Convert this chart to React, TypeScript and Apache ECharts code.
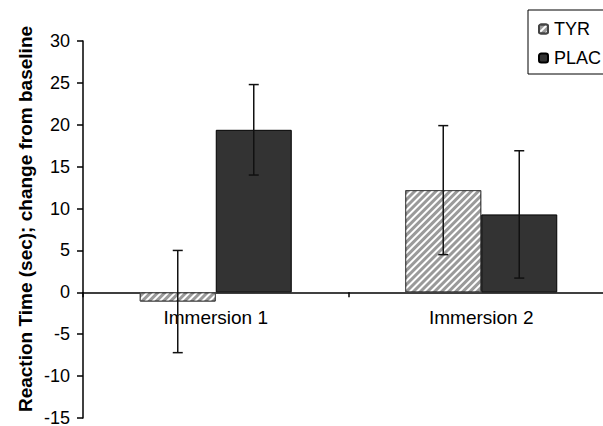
import React, { useEffect, useRef } from "react";
import * as echarts from "echarts";

const categories = ["Immersion 1", "Immersion 2"];
const seriesNames = ["TYR", "PLAC"];
const tyrValues = [-1.1, 12.2];
const tyrErrors = [6.1, 7.7];
const placValues = [19.4, 9.3];
const placErrors = [5.4, 7.6];
const yTicks = { min: -15, max: 30, interval: 5 };

const BAR_W = 76;

export default function App() {
  const ref = useRef<HTMLDivElement>(null);
  useEffect(() => {
    if (!ref.current) return;
    const chart = echarts.init(ref.current, null, { renderer: "svg" });
    const errData = (vals: number[], errs: number[]) =>
      vals.map((v, i) => [i, v, v - errs[i], v + errs[i]]);
    const errSeries = (vals: number[], errs: number[], offset: number, name: string) => ({
      type: "custom",
      name: name + "-err",
      z: 10,
      silent: true,
      data: errData(vals, errs),
      renderItem: (params: any, api: any) => {
        const x = api.coord([api.value(0), 0])[0] + offset;
        const lo = api.coord([api.value(0), api.value(2)])[1];
        const hi = api.coord([api.value(0), api.value(3)])[1];
        const cap = 5;
        const st = { stroke: "#111", lineWidth: 1.5 };
        return {
          type: "group",
          children: [
            { type: "line", shape: { x1: x, y1: lo, x2: x, y2: hi }, style: st },
            { type: "line", shape: { x1: x - cap, y1: lo, x2: x + cap, y2: lo }, style: st },
            { type: "line", shape: { x1: x - cap, y1: hi, x2: x + cap, y2: hi }, style: st },
          ],
        };
      },
    });
    chart.setOption({
      animation: false,
      backgroundColor: "#fff",
      textStyle: { fontFamily: "Liberation Sans, Arial, sans-serif" },
      grid: { left: 83, right: -11, top: 41, bottom: 8, containLabel: false, outerBoundsMode: "none" },
      legend: {
        data: seriesNames,
        orient: "vertical",
        left: 528,
        top: 10,
        padding: [10, 30, 7, 10],
        itemGap: 11,
        itemWidth: 9,
        itemHeight: 9,
        borderColor: "#000",
        borderWidth: 1,
        borderRadius: 0,
        textStyle: { fontSize: 18, color: "#000", padding: [0, 0, 0, 1] },
        selectedMode: false,
      },
      xAxis: {
        type: "category",
        data: categories,
        axisLine: { onZero: true, lineStyle: { color: "#000", width: 1.5 } },
        axisTick: { show: true, length: 5, lineStyle: { color: "#000", width: 1.5 } },
        axisLabel: { fontSize: 19, color: "#000", margin: -110 },
      },
      yAxis: {
        type: "value",
        min: yTicks.min,
        max: yTicks.max,
        interval: yTicks.interval,
        splitLine: { show: false },
        axisLine: { show: true, lineStyle: { color: "#000", width: 1.5 } },
        axisTick: { show: true, length: 6, lineStyle: { color: "#000", width: 1.5 } },
        axisLabel: { fontSize: 18, color: "#000", margin: 13 },
      },
      graphic: [
        {
          type: "text",
          x: 25,
          y: 219,
          rotation: Math.PI / 2,
          style: {
            text: "Reaction Time (sec); change from baseline",
            fontSize: 19,
            fontWeight: "bold",
            fontFamily: "Liberation Sans, Arial, sans-serif",
            fill: "#000",
            align: "center",
            verticalAlign: "middle",
          },
        },
      ],
      series: [
        {
          type: "bar",
          name: seriesNames[0],
          data: tyrValues,
          barWidth: BAR_W,
          barGap: "0%",
          itemStyle: {
            color: "#9a9a9a",
            borderColor: "#444",
            borderWidth: 1,
            decal: {
              symbol: "rect",
              symbolSize: 1,
              dashArrayX: [1, 0],
              dashArrayY: [2, 3],
              rotation: -Math.PI / 4,
              color: "#ffffff",
            },
          },
        },
        {
          type: "bar",
          name: seriesNames[1],
          data: placValues,
          barWidth: BAR_W,
          barGap: "0%",
          itemStyle: { color: "#333333", borderColor: "#000", borderWidth: 1 },
        },
        errSeries(tyrValues, tyrErrors, -BAR_W / 2, seriesNames[0]),
        errSeries(placValues, placErrors, BAR_W / 2, seriesNames[1]),
      ],
    } as any);
    return () => chart.dispose();
  }, []);
  return <div ref={ref} style={{ width: 603, height: 426, position: "absolute", left: 0, top: 0 }} />;
}
